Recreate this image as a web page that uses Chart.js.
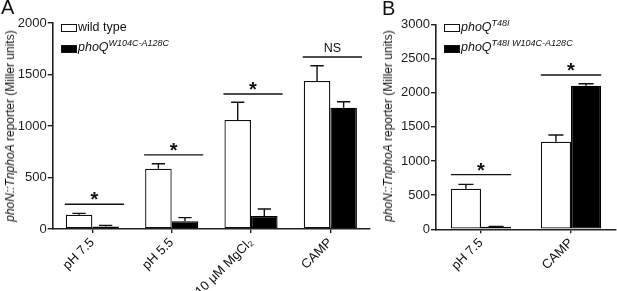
<!DOCTYPE html>
<html><head><meta charset="utf-8">
<script src="https://cdn.jsdelivr.net/npm/chart.js@4/dist/chart.umd.min.js"></script>
<style>
body{margin:0;width:617px;height:291px;position:relative;background:#fff;font-family:'Liberation Sans',Arial,sans-serif;overflow:hidden;color:#111}
canvas{position:absolute;top:0}
.t{position:absolute;white-space:nowrap;line-height:1}
.box{position:absolute;width:14px;height:6px;border:1px solid #111;background:#fff}
.box.k{background:#000}
.sup{font-size:9px;position:relative;top:-5px;font-style:italic}
.yt{position:absolute;font-size:12px;white-space:nowrap;line-height:1;transform:translate(-50%,-50%) rotate(-90deg)}
</style></head>
<body>
<canvas id="ca" width="378" height="291" style="left:0"></canvas>
<canvas id="cb" width="241" height="291" style="left:376px"></canvas>

<div class="t" style="left:1px;top:-3px;font-size:20px">A</div>
<div class="t" style="left:382px;top:-2px;font-size:20px">B</div>

<div class="yt" style="left:10px;top:126px"><i>phoN::TnphoA</i> reporter (Miller units)</div>
<div class="yt" style="left:388px;top:126px"><i>phoN::TnphoA</i> reporter (Miller units)</div>

<div class="box" style="left:61px;top:24px"></div>
<div class="t" style="left:78px;top:21px;font-size:12.5px">wild type</div>
<div class="box k" style="left:61px;top:45px"></div>
<div class="t" style="left:78px;top:41px;font-size:12.5px"><i>phoQ</i><span class="sup">W104C-A128C</span></div>

<div class="box" style="left:444px;top:24px"></div>
<div class="t" style="left:461px;top:21px;font-size:12.5px"><i>phoQ</i><span class="sup">T48I</span></div>
<div class="box k" style="left:444px;top:45px"></div>
<div class="t" style="left:461px;top:41px;font-size:12.5px"><i>phoQ</i><span class="sup">T48I W104C-A128C</span></div>

<script>
// ---- Panel A data ----
const catsA = ['pH 7.5', 'pH 5.5', '10 μM MgCl₂', 'CAMP'];
const wildTypeA = [139, 585, 1058, 1437];
const wildTypeErrA = [13, 49, 172, 148];
const mutantA = [24, 75, 126, 1178];
const mutantErrA = [11, 35, 68, 58];
const sigLevelA = [240, 720, 1310, 1670];
const sigLabelA = ['*', '*', '*', 'NS'];
const yTicksA = [0, 500, 1000, 1500, 2000];

// ---- Panel B data ----
const catsB = ['pH 7.5', 'CAMP'];
const t48iB = [594, 1282];
const t48iErrB = [64, 98];
const t48iMutB = [36, 2101];
const t48iMutErrB = [5, 30];
const sigLevelB = [800, 2258];
const sigLabelB = ['*', '*'];
const yTicksB = [0, 500, 1000, 1500, 2000, 2500, 3000];

const FONT = "'Liberation Sans', Arial, sans-serif";
const AX = '#222';

const errPlugin = {
  id: 'errbars',
  afterDatasetsDraw(chart) {
    const ctx = chart.ctx, y = chart.scales.y;
    chart.data.datasets.forEach((ds, i) => {
      const meta = chart.getDatasetMeta(i);
      meta.data.forEach((bar, j) => {
        const top = y.getPixelForValue(ds.data[j] + ds.errors[j]);
        const half = bar.width / 4;
        ctx.save();
        ctx.strokeStyle = '#111';
        ctx.lineWidth = 1.4;
        ctx.beginPath();
        ctx.moveTo(bar.x, bar.y);
        ctx.lineTo(bar.x, top);
        ctx.moveTo(bar.x - half, top);
        ctx.lineTo(bar.x + half, top);
        ctx.stroke();
        ctx.restore();
      });
    });
  }
};

const sigPlugin = {
  id: 'sig',
  afterDatasetsDraw(chart, args, opts) {
    const ctx = chart.ctx, y = chart.scales.y;
    const m0 = chart.getDatasetMeta(0), m1 = chart.getDatasetMeta(1);
    opts.levels.forEach((lv, j) => {
      const b0 = m0.data[j], b1 = m1.data[j];
      const l = b0.x - b0.width / 2 + opts.extL;
      const r = b1.x + b1.width / 2 + opts.extR;
      const py = y.getPixelForValue(lv);
      ctx.save();
      ctx.strokeStyle = '#111';
      ctx.lineWidth = 1.4;
      ctx.beginPath();
      ctx.moveTo(l, py); ctx.lineTo(r, py);
      ctx.stroke();
      ctx.fillStyle = '#111';
      ctx.textAlign = 'center';
      ctx.textBaseline = 'alphabetic';
      const lab = opts.labels[j];
      if (lab === '*') {
        ctx.font = 'bold 20px ' + FONT;
        ctx.fillText(lab, (l + r) / 2, py + 2);
      } else {
        ctx.font = '12.5px ' + FONT;
        ctx.fillText(lab, (l + r) / 2, py - 5);
      }
      ctx.restore();
    });
  }
};

function makeChart(id, cats, d1, e1, d2, e2, ymax, ticks, sigL, sigT, yw, xh, pad, ext) {
  return new Chart(document.getElementById(id), {
    type: 'bar',
    data: {
      labels: cats,
      datasets: [
        { data: d1, errors: e1, backgroundColor: '#fff', borderColor: '#111', borderWidth: 1.3, borderSkipped: false,
          categoryPercentage: 0.67, barPercentage: 1.0 },
        { data: d2, errors: e2, backgroundColor: '#000', borderColor: '#000', borderWidth: 1.3, borderSkipped: false,
          categoryPercentage: 0.67, barPercentage: 1.0 }
      ]
    },
    options: {
      responsive: false,
      animation: false,
      devicePixelRatio: 1,
      layout: { padding: pad },
      plugins: {
        legend: { display: false },
        tooltip: { enabled: false },
        sig: { levels: sigL, labels: sigT, extL: ext[0], extR: ext[1] }
      },
      scales: {
        x: {
          offset: true,
          grid: { display: true, drawOnChartArea: false, drawTicks: true, tickLength: 4, color: AX, offset: false, lineWidth: 1.4 },
          border: { display: true, color: AX, width: 1.6 },
          ticks: { minRotation: 45, maxRotation: 45, color: '#111', padding: 2, font: { family: FONT, size: 13 } },
          afterFit(s) { s.height = xh; }
        },
        y: {
          min: 0, max: ymax,
          afterBuildTicks(s) { s.ticks = ticks.map(v => ({ value: v })); },
          grid: { display: true, drawOnChartArea: false, drawTicks: true, tickLength: 5, color: AX, lineWidth: 1.4 },
          border: { display: true, color: AX, width: 1.6 },
          ticks: { color: '#222', padding: 1, font: { family: FONT, size: 13 }, callback: v => String(v) },
          afterFit(s) { s.width = yw; }
        }
      }
    },
    plugins: [errPlugin, sigPlugin]
  });
}

makeChart('ca', catsA, wildTypeA, wildTypeErrA, mutantA, mutantErrA, 2000, yTicksA,
  sigLevelA, sigLabelA, 52.7, 62, { top: 23, right: 8, left: 0, bottom: 0 }, [-1, 5]);
makeChart('cb', catsB, t48iB, t48iErrB, t48iMutB, t48iMutErrB, 3000, yTicksB,
  sigLevelB, sigLabelB, 60, 61.7, { top: 24.3, right: 1, left: 0, bottom: 0 }, [0, 0]);
</script>
</body></html>
